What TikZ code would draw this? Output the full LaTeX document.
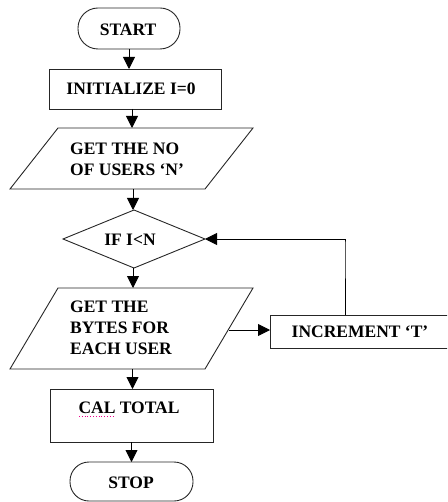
\documentclass[tikz,border=0pt]{standalone}
\usepackage{fontspec}
\setmainfont{Liberation Serif}
\usetikzlibrary{shapes.geometric,arrows.meta}
\begin{document}
\begin{tikzpicture}[x=1pt,y=-1pt,
  txt/.style={font=\bfseries\fontsize{17.5}{21}\selectfont, inner sep=0pt, align=left},
  shp/.style={draw=black!85, line width=0.9pt, inner sep=0pt, outer sep=0pt},
  frame/.style={rectangle, inner sep=0pt, outer sep=0pt},
  arr/.style={draw=black, line width=0.9pt, -{Triangle[length=12pt,width=12pt]}}]
\useasboundingbox (0,0) rectangle (447,502);
\clip (0,0) rectangle (447,502);
% shapes
\node[shp, rectangle, rounded corners=20pt, minimum width=102pt, minimum height=41pt] (start) at (129,28.5) {};
\node[shp, rectangle, minimum width=172pt, minimum height=40pt] (init) at (135,89) {};
\node[frame, minimum width=243pt, minimum height=61pt] (p1) at (131.5,158.5) {};
\draw[shp] (p1.south west) -- ([xshift=48pt]p1.north west) -- (p1.north east) -- ([xshift=-48pt]p1.south east) -- cycle;
\node[shp, diamond, minimum width=142pt, minimum height=58pt] (dia) at (134,239) {};
\node[frame, minimum width=243pt, minimum height=81pt] (p2) at (131.5,328.5) {};
\draw[shp] (p2.south west) -- ([xshift=48pt]p2.north west) -- (p2.north east) -- ([xshift=-48pt]p2.south east) -- cycle;
\coordinate (p2r) at (229,330);
\node[shp, rectangle, minimum width=200pt, minimum height=33pt] (inc) at (370,331.5) {};
\node[shp, rectangle, minimum width=163pt, minimum height=53pt] (cal) at (131.5,415.5) {};
\node[shp, rectangle, rounded corners=19pt, minimum width=123pt, minimum height=39pt] (stop) at (131.5,481.5) {};
% texts
\node[txt] (startt) at (128,30) {START};
\node[txt] (initt) at (131,88.5) {INITIALIZE I=0};
\node[txt, anchor=west] (p1t) at (70,159) {GET THE NO\\OF USERS ‘N’};
\node[txt] (diat) at (130,240) {IF I<N};
\node[txt, anchor=west] (p2t) at (70,328) {GET THE\\BYTES FOR\\EACH USER};
\node[txt] (inct) at (360,332) {INCREMENT ‘T’};
\node[txt] (calt) at (129,408) {CAL TOTAL};
\node[txt] (stopt) at (131,483) {STOP};
\draw[magenta, dotted, line width=0.8pt] (79,416.5) -- (113,416.5);
% connectors
\draw[arr] (start.south) -- (start.south |- init.north);
\draw[arr] ([xshift=-3pt]init.south) -- ([xshift=-3pt]init.south |- p1.north);
\draw[arr] ([xshift=1.5pt]p1.south) -- ([xshift=1.5pt]p1.south |- dia.north);
\draw[arr] ([xshift=-1pt]dia.south) -- ([xshift=-1pt]dia.south |- p2.north);
\draw[arr] (p2r) -- (p2r -| inc.west);
\coordinate (fb) at (345,239);
\draw[arr] (inc.north -| fb) -- ([yshift=-4pt]fb) -- (fb) -- (dia.east);
\draw[arr] ([xshift=1pt]p2.south) -- ([xshift=1pt]p2.south |- cal.north);
\draw[arr] (cal.south) -- (cal.south |- stop.north);
\end{tikzpicture}
\end{document}
